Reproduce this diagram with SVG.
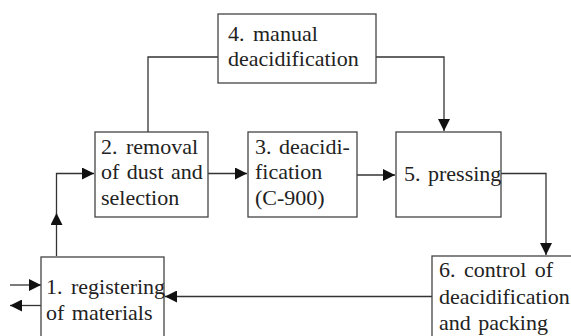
<svg xmlns="http://www.w3.org/2000/svg" width="571" height="336" viewBox="0 0 571 336">
<style>
text{font-family:'Liberation Serif','Times New Roman',serif !important;font-size:22px;fill:#222}
.box{fill:#fff;stroke:#444;stroke-width:1.3}
.c{fill:none;stroke:#333;stroke-width:1.3}
</style>
<defs>
<marker id="ah" viewBox="0 0 12 12" refX="12" refY="6" markerWidth="12" markerHeight="12" markerUnits="userSpaceOnUse" orient="auto">
<path d="M0,0 L12,6 L0,12 Z" fill="#111"/>
</marker>
</defs>
<rect width="571" height="336" fill="#fff"/>
<g id="connectors">
<path class="c" d="M148,132 V57 H218"/>
<path class="c" d="M376,57 H444 V131" marker-end="url(#ah)"/>
<path class="c" d="M208,173.5 H247" marker-end="url(#ah)"/>
<path class="c" d="M357,175 H395" marker-end="url(#ah)"/>
<path class="c" d="M501,173.5 H546 V255" marker-end="url(#ah)"/>
<path class="c" d="M432,296.5 H165" marker-end="url(#ah)"/>
<path class="c" d="M56.5,256 V213" marker-end="url(#ah)"/>
<path class="c" d="M56.5,214 V173.5 H94" marker-end="url(#ah)"/>
<path class="c" d="M10,285 H41" marker-end="url(#ah)"/>
<path class="c" d="M41,305.5 H10" marker-end="url(#ah)"/>
</g>
<g id="node4">
<rect class="box" x="218" y="14" width="158" height="69"/>
<text x="228" y="40.5" style="font-family:'Liberation Serif',serif !important;word-spacing:3px">4. manual</text>
<text x="228" y="65.5" style="font-family:'Liberation Serif',serif !important">deacidification</text>
</g>
<g id="node2">
<rect class="box" x="95" y="132" width="113" height="85"/>
<text x="101" y="153.5" style="font-family:'Liberation Serif',serif !important;word-spacing:3px">2. removal</text>
<text x="101" y="179" style="font-family:'Liberation Serif',serif !important;word-spacing:2px">of dust and</text>
<text x="101" y="205" style="font-family:'Liberation Serif',serif !important">selection</text>
</g>
<g id="node3">
<rect class="box" x="248" y="132" width="109" height="85"/>
<text x="255" y="153.5" style="font-family:'Liberation Serif',serif !important;word-spacing:2px">3. deacidi-</text>
<text x="255" y="179" style="font-family:'Liberation Serif',serif !important">fication</text>
<text x="255" y="205" style="font-family:'Liberation Serif',serif !important">(C-900)</text>
</g>
<g id="node5">
<rect class="box" x="396" y="132" width="105" height="85"/>
<text x="404" y="180.5" style="font-family:'Liberation Serif',serif !important;word-spacing:2px">5. pressing</text>
</g>
<g id="node6">
<rect class="box" x="432" y="256" width="150" height="90"/>
<text x="439" y="277" style="font-family:'Liberation Serif',serif !important;word-spacing:3px">6. control of</text>
<text x="439" y="303.5" style="font-family:'Liberation Serif',serif !important">deacidification</text>
<text x="439" y="329.5" style="font-family:'Liberation Serif',serif !important;word-spacing:2px">and packing</text>
</g>
<g id="node1">
<rect class="box" x="41" y="257" width="123" height="90"/>
<text x="46" y="293.5" style="font-family:'Liberation Serif',serif !important;word-spacing:3px">1. registering</text>
<text x="46" y="320" style="font-family:'Liberation Serif',serif !important;word-spacing:2px">of materials</text>
</g>
</svg>
